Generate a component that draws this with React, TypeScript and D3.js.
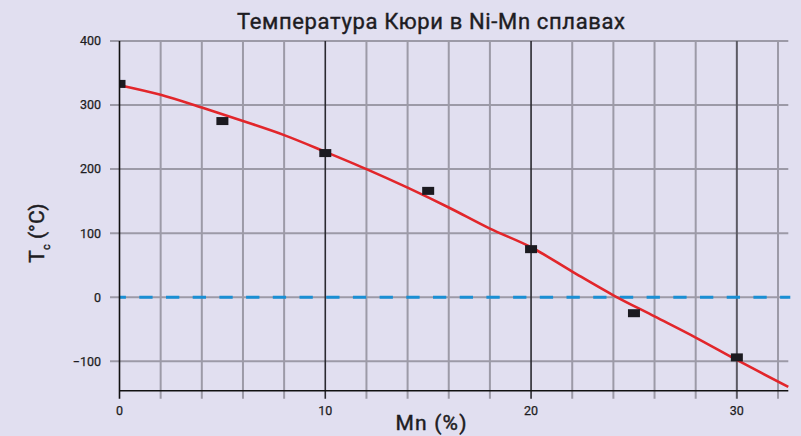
import React from "react";
import * as d3 from "d3";

// Measured Curie temperatures (Mn %, Tc °C)
const mnPercent = [0, 5, 10, 15, 20, 25, 30];
const curieTemp = [333, 275, 225, 166, 75, -25, -94];

// Smoothed trend curve through the measurements
const trendMn = [0, 2, 4, 6, 8, 10, 12, 14, 16, 18, 20, 22, 24, 26, 28, 30, 32.5];
const trendTemp = [331, 316, 296, 275, 253, 227, 200, 171, 140, 107, 78, 40, 3, -30, -63, -98, -140];

const xTicks = [0, 10, 20, 30];
const yTicks = [400, 300, 200, 100, 0, -100];
const xGrid = [2, 4, 6, 8, 10, 12, 14, 16, 18, 20, 22, 24, 26, 28, 30, 32];

const W = 801;
const H = 436;
const FONT = "Roboto, 'DejaVu Sans', sans-serif";
const INK = "#1d1c22";

export default function App() {
  const x = d3.scaleLinear().domain([0, 32.5]).range([119.5, 788.3]);
  const y = d3.scaleLinear().domain([-146, 400]).range([390.7, 41]);
  const [x0, x1] = x.range();
  const yTop = y(400);
  const yBot = y(-146);

  const line = d3
    .line<[number, number]>()
    .x((d) => x(d[0]))
    .y((d) => y(d[1]))
    .curve(d3.curveMonotoneX);
  const trend: [number, number][] = trendMn.map((m, i) => [m, trendTemp[i]]);

  const vColor = (v: number) =>
    v === 10 || v === 20 ? "#2a2930" : v === 30 ? "#5b5a63" : "#9c9aa7";
  const vWidth = (v: number) => (v === 10 || v === 20 ? 1.6 : 2);

  // medium-weight look: regular glyphs with a thin outline in the same ink
  const medium = (w: number) => ({ stroke: INK, strokeWidth: w, paintOrder: "stroke" as const });

  return (
    <svg
      width={W}
      height={H}
      style={{ position: "absolute", left: 0, top: 0, display: "block" }}
    >
      <defs>
        <clipPath id="plot">
          <rect x={x0} y={yTop - 2} width={x1 - x0 + 4} height={yBot - yTop + 2} />
        </clipPath>
      </defs>
      <rect width={W} height={H} fill="#e1dff0" />

      {/* horizontal grid with left tick stubs */}
      {yTicks.map((t) => (
        <line
          key={"h" + t}
          x1={110}
          x2={x1}
          y1={y(t)}
          y2={y(t)}
          stroke="#9c9aa7"
          strokeWidth={2}
        />
      ))}

      {/* vertical grid with bottom tick stubs */}
      {xGrid.map((v) => (
        <line
          key={"v" + v}
          x1={x(v)}
          x2={x(v)}
          y1={yTop}
          y2={yBot + 8}
          stroke={vColor(v)}
          strokeWidth={vWidth(v)}
        />
      ))}

      {/* zero reference line */}
      <line
        x1={x0}
        x2={x1 + 2}
        y1={y(0)}
        y2={y(0)}
        stroke="#1a8fd4"
        strokeWidth={3}
        strokeDasharray="13.3,13.4"
        strokeDashoffset={6.9}
      />

      <g clipPath="url(#plot)">
        <path d={line(trend) || ""} fill="none" stroke="#e2262b" strokeWidth={2.6} />
        {mnPercent.map((m, i) => (
          <rect
            key={"p" + m}
            x={x(m) - 6}
            y={y(curieTemp[i]) - 4}
            width={12}
            height={8}
            fill="#1b1a20"
          />
        ))}
      </g>

      {/* axes */}
      <line x1={x0} x2={x0} y1={yTop} y2={yBot + 8} stroke="#111" strokeWidth={1.6} />
      <line x1={x0} x2={x1} y1={yBot} y2={yBot} stroke="#111" strokeWidth={1.6} />

      {/* tick labels */}
      {yTicks.map((t) => (
        <text
          key={"yl" + t}
          x={101}
          y={y(t)}
          dy="0.35em"
          textAnchor="end"
          fontFamily={FONT}
          fontSize={12.5}
          fill={INK}
          {...medium(0.25)}
        >
          {t < 0 ? "\u2212" + Math.abs(t) : t}
        </text>
      ))}
      {xTicks.map((t) => (
        <text
          key={"xl" + t}
          x={x(t)}
          y={415}
          textAnchor="middle"
          fontFamily={FONT}
          fontSize={12.5}
          fill={INK}
          {...medium(0.25)}
        >
          {t}
        </text>
      ))}

      {/* titles */}
      <text
        x={431}
        y={28.5}
        textAnchor="middle"
        fontFamily={FONT}
        fontSize={22}
        textLength={388}
        lengthAdjust="spacing"
        fill={INK}
        {...medium(0.4)}
      >
        Температура Кюри в Ni-Mn сплавах
      </text>
      <text
        x={431}
        y={430}
        textAnchor="middle"
        fontFamily={FONT}
        fontSize={21}
        textLength={71}
        lengthAdjust="spacing"
        fill={INK}
        {...medium(0.45)}
      >
        Mn (%)
      </text>
      <text
        transform="translate(43.5,233) rotate(-90)"
        textAnchor="middle"
        fontFamily={FONT}
        fontSize={21}
        fill={INK}
        {...medium(0.45)}
      >
        T
        <tspan fontSize={11} dy={6}>c</tspan>
        <tspan dy={-6}> (°C)</tspan>
      </text>
    </svg>
  );
}
